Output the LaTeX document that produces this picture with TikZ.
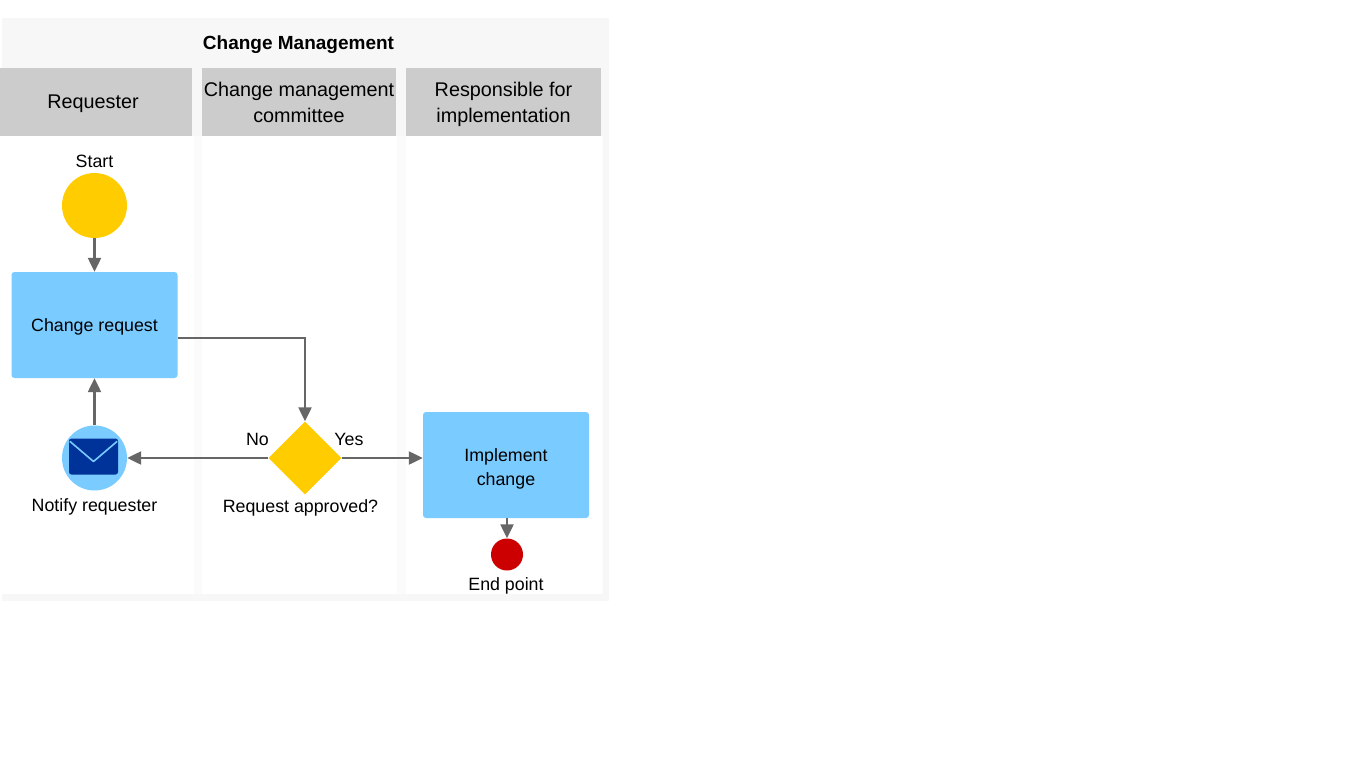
\documentclass[tikz,border=0pt]{standalone}
\usepackage{fontspec}
\setmainfont{Liberation Sans}
\usetikzlibrary{positioning, arrows.meta, shapes.geometric}

\definecolor{panelgray}{HTML}{F7F7F7}
\definecolor{gapgray}{HTML}{FBFBFB}
\definecolor{headgray}{HTML}{CCCCCC}
\definecolor{boxblue}{HTML}{7ACBFF}
\definecolor{startyellow}{HTML}{FFCC00}
\definecolor{endred}{HTML}{CC0000}
\definecolor{mailblue}{HTML}{003399}
\definecolor{linegray}{HTML}{666666}
\newcommand{\labelfont}{\fontsize{17.8}{24}\selectfont}

\begin{document}
\begin{tikzpicture}[
    x=1pt, y=-1pt,
    header/.style={rectangle, fill=headgray, minimum height=68pt, inner sep=0pt, align=center, text height=44pt, text depth=4pt, font=\fontsize{19.8}{26}\selectfont},
    lane/.style={rectangle, fill=white, minimum height=458pt, inner sep=0pt},
    action/.style={rectangle, fill=boxblue, rounded corners=3pt, minimum width=166pt, minimum height=106pt, inner sep=0pt, align=center, font=\labelfont},
    label/.style={inner sep=0pt, align=center, font=\labelfont},
    link/.style={draw=linegray, line width=2.3pt, -{Triangle[length=14pt, width=13pt]}},
]
\path [use as bounding box] (0,0) rectangle (1366,768);

% Background
\node [rectangle, fill=panelgray, minimum width=607pt, minimum height=583pt, inner sep=0pt] (panel) at (305.5,309.5) {};
\node [rectangle, fill=gapgray, minimum width=603pt, minimum height=458pt, inner sep=0pt] (lanes) at (301.5,365) {};
\node [lane, minimum width=194pt] (lane1) at (97,365) {};
\node [lane, minimum width=195pt] (lane2) at (299.5,365) {};
\node [lane, minimum width=196pt] (lane3) at (504,365) {};

% Headers
\node [font=\fontsize{19}{24}\bfseries\selectfont, inner sep=0pt] (title) at (298.5,45) {Change Management};
\node [header, minimum width=192pt, text height=15pt, text depth=3pt] (requester) at (96,102) {Requester\hspace{6pt}};
\node [header, minimum width=194pt] (committee) at (299,102) {Change management\\committee};
\node [header, minimum width=195pt] (responsible) at (503.5,102) {Responsible for\\implementation};

% Nodes
\node [circle, fill=startyellow, minimum size=65pt, inner sep=0pt] (start) at (94.5,205.5) {};
\node [label, above=5pt of start] (startlabel) {Start};
\node [action, text height=14pt, text depth=2pt] (request) at (94.5,325) {Change request};
\node [circle, fill=boxblue, minimum size=65pt, inner sep=0pt] (notify) at (94.5,458) {};
\node [label, below=8pt of notify] (notifylabel) {Notify requester};
\node [diamond, fill=startyellow, minimum size=73pt, inner sep=0pt] (approved) at (305,458) {};
\node [label] (approvedlabel) at (300.5,507.5) {Request approved?};
\node [label] (nolabel) at (257.5,439) {No};
\node [label] (yeslabel) at (349,439) {Yes};
\node [action, text height=44pt, text depth=4pt] (implement) at (506,465) {Implement\\change};
\node [circle, fill=endred, minimum size=32pt, inner sep=0pt] (endpoint) at (507,554.5) {};
\node [label] (endlabel) at (506,586) {End point};

% Envelope
\node [rectangle, fill=mailblue, rounded corners=2.5pt, minimum width=49pt, minimum height=36pt, inner sep=0pt] (mail) at (93.5,456.5) {};
\draw [boxblue, line width=1.6pt, line join=round] ([xshift=1pt,yshift=-3pt]mail.north west) -- ([yshift=-5pt]mail.center) -- ([xshift=-1pt,yshift=-3pt]mail.north east);

% Lines
\draw [link] (start) -- (request);
\draw [link] (notify) -- (request);
\draw [link] ([yshift=-13pt]request.east) -| (approved.north);
\draw [link] (approved.west) -- (notify);
\draw [link] (approved.east) -- ([yshift=7pt]implement.west);
\draw [link] (implement.south -| endpoint.north) -- (endpoint.north);

\end{tikzpicture}
\end{document}
